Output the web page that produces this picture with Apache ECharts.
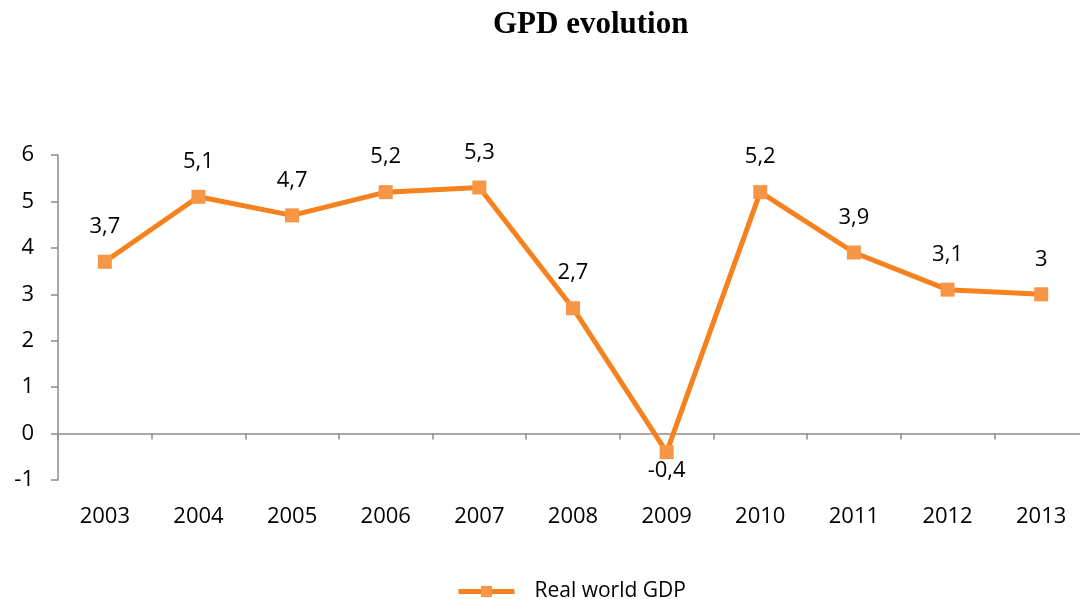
<!DOCTYPE html>
<html><head><meta charset="utf-8">
<script src="https://cdn.jsdelivr.net/npm/echarts@6/dist/echarts.min.js"></script>
<style>html,body{margin:0;padding:0;background:#fff}#c{width:1080px;height:599px}</style>
</head><body><div id="c"></div>
<script>
const years = ['2003','2004','2005','2006','2007','2008','2009','2010','2011','2012','2013'];
const gdp = [3.7, 5.1, 4.7, 5.2, 5.3, 2.7, -0.4, 5.2, 3.9, 3.1, 3.0];
const seriesName = 'Real world GDP';
const titleText = 'GPD evolution';

const fmt = v => String(v).replace('.', ',');
const font = '"Open Sans", "Noto Sans", sans-serif';
const chart = echarts.init(document.getElementById('c'));
chart.setOption({
  animation: false,
  title: {text: titleText, left: 488, top: 4,
    textStyle: {fontFamily: '"Liberation Serif", serif', fontWeight: 'bold', fontSize: 31, color: '#000'}},
  grid: {left: 58, top: 155, width: 1030, height: 325, outerBoundsMode: 'none', containLabel: false},
  legend: {data: [seriesName], left: 451, top: 576, itemWidth: 56, itemHeight: 14, itemGap: 10,
    lineStyle: {width: 5},
    textStyle: {fontFamily: font, fontSize: 21, color: '#000', padding: [0,0,0,15]}},
  xAxis: [
    {type: 'category', data: years, boundaryGap: true,
     axisLine: {onZero: true, lineStyle: {color: '#8c8c8c', width: 1.5}},
     axisTick: {show: true, length: 6, lineStyle: {color: '#8c8c8c', width: 1.5}},
     axisLabel: {show: false}},
    {type: 'category', data: years, position: 'bottom', boundaryGap: true,
     axisLine: {show: false, onZero: false}, axisTick: {show: false},
     axisLabel: {margin: 26, fontFamily: font, fontSize: 22, color: '#000'}}
  ],
  yAxis: {type: 'value', min: -1, max: 6, interval: 1,
    splitLine: {show: false},
    axisLine: {show: true, lineStyle: {color: '#8c8c8c', width: 1.5}},
    axisTick: {show: true, length: 7, lineStyle: {color: '#8c8c8c', width: 1.5}},
    axisLabel: {margin: 24, fontFamily: font, fontSize: 22, color: '#000'}},
  series: [{
    name: seriesName, type: 'line', xAxisIndex: 0,
    symbol: 'rect', symbolSize: 14,
    lineStyle: {color: '#f5821f', width: 5},
    itemStyle: {color: '#f79646'},
    label: {show: true, fontFamily: font, fontSize: 22, color: '#000',
      formatter: p => fmt(p.value),
      position: 'top', distance: 17},
    labelLayout: {hideOverlap: false},
    data: gdp.map(v => v < 0 ? {value: v, label: {position: 'bottom', distance: 1}} : v)
  }]
});
</script></body></html>
